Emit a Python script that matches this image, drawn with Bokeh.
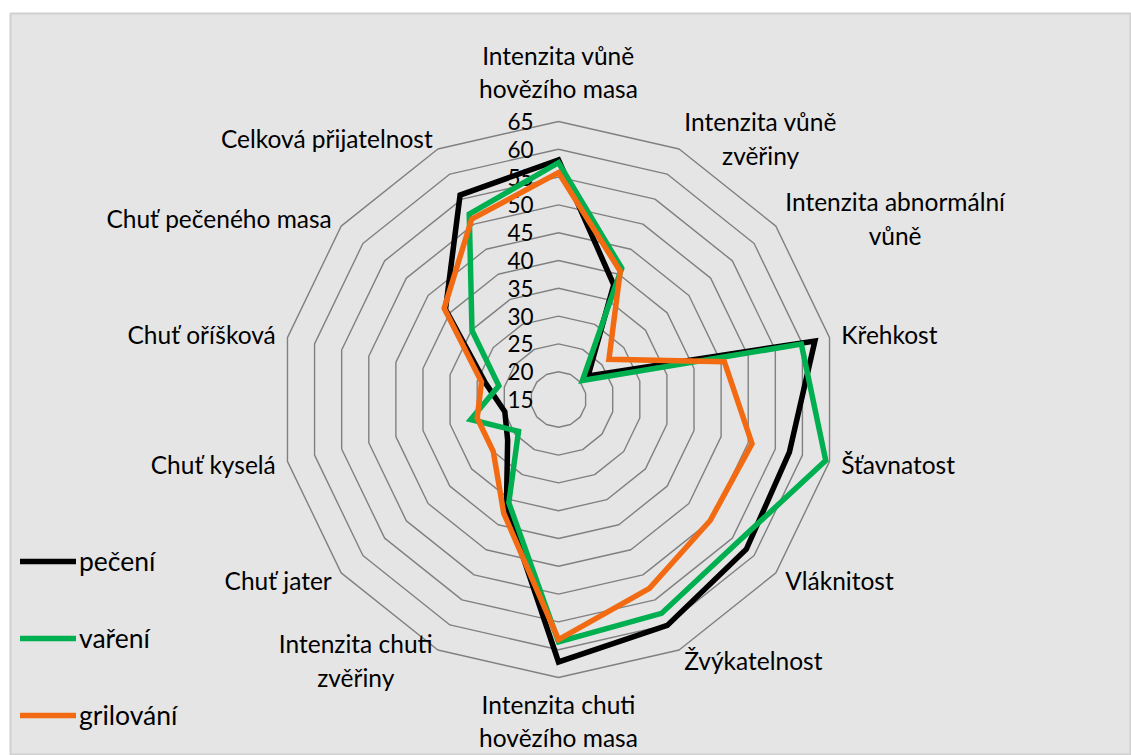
import numpy as np
from bokeh.plotting import figure
from bokeh.models import ColumnDataSource, Range1d, Legend, LegendItem
from bokeh.core.properties import value
from bokeh.embed import file_html
from bokeh.resources import INLINE

# ---------------- data ----------------
categories = [
    "Intenzita vůně\nhovězího masa",
    "Intenzita vůně\nzvěřiny",
    "Intenzita abnormální\nvůně",
    "Křehkost",
    "Šťavnatost",
    "Vláknitost",
    "Žvýkatelnost",
    "Intenzita chuti\nhovězího masa",
    "Intenzita chuti\nzvěřiny",
    "Chuť jater",
    "Chuť kyselá",
    "Chuť oříšková",
    "Chuť pečeného masa",
    "Celková přijatelnost",
]
series_names = ["pečení", "vaření", "grilování"]
peceni = [58.1, 37.9, 21.8, 62.3, 57.6, 58.2, 60.1, 62.2, 36.6, 26.7, 24.9, 28.5, 41.0, 55.8]
vareni = [57.6, 41.2, 20.5, 59.8, 64.3, 56.2, 57.7, 58.6, 35.6, 24.2, 31.2, 26.0, 34.9, 52.0]
grilovani = [55.8, 40.6, 26.6, 45.6, 50.7, 49.9, 52.7, 58.2, 37.7, 30.0, 30.0, 29.2, 41.3, 51.0]
tick_values = [15, 20, 25, 30, 35, 40, 45, 50, 55, 60, 65]

# ---------------- styling / geometry ----------------
R_MIN = tick_values[0]
R_MAX = tick_values[-1]
PX = 5.56          # pixels per value unit
FRAME_W, FRAME_H = 1121, 742
CX, CY = 548, 386  # radar centre inside frame (px from left / top)
FONT = "Lato"
colors = ["#000000", "#00B050", "#F26B13"]

N = len(categories)
theta = np.arange(N) * 2 * np.pi / N
sin_t, cos_t = np.sin(theta), np.cos(theta)

p = figure(width=1131, height=755, output_backend="svg", toolbar_location=None,
           x_range=Range1d(-CX / PX, (FRAME_W - CX) / PX),
           y_range=Range1d(-(FRAME_H - CY) / PX, CY / PX),
           x_axis_location=None, y_axis_location=None,
           min_border_left=10, min_border_top=13, min_border_right=0, min_border_bottom=0,
           background_fill_color="#e5e5e5", border_fill_color="white",
           outline_line_color="#d0d0d0", outline_line_width=2)
p.grid.visible = False

# rings
ring_xs, ring_ys = [], []
for t in tick_values[1:]:
    r = t - R_MIN
    ring_xs.append(list(np.append(r * sin_t, r * sin_t[0])))
    ring_ys.append(list(np.append(r * cos_t, r * cos_t[0])))
p.multi_line(ring_xs, ring_ys, line_color="#808080", line_width=1.4)

# tick labels
tick_src = ColumnDataSource(dict(x=[0] * len(tick_values),
                                 y=[t - R_MIN for t in tick_values],
                                 text=[str(t) for t in tick_values]))
p.text(x="x", y="y", text="text", source=tick_src, x_offset=-25,
       text_align="right", text_baseline="middle",
       text_font=value(FONT), text_font_size="22.5px", text_color="#000000")

# series
renderers = []
for name, vals, col in zip(series_names, [peceni, vareni, grilovani], colors):
    r = np.array(vals) - R_MIN
    xs = r * sin_t
    ys = r * cos_t
    xs = np.append(xs, xs[:2])
    ys = np.append(ys, ys[:2])
    rr = p.line(xs, ys, line_color=col, line_width=5.5, line_join="miter", line_cap="round")
    renderers.append((name, rr))

# category labels
anchors, pads = [], []
for s, c in zip(sin_t, cos_t):
    if abs(s) < 0.1:
        anchors.append("bottom_center" if c > 0 else "top_center")
        pads.append(18 if c > 0 else 12)
    elif s > 0:
        anchors.append("center_left")
        pads.append(12)
    else:
        anchors.append("center_right")
        pads.append(12)
r_lab = (R_MAX - R_MIN) + np.array(pads) / PX
lab_src = ColumnDataSource(dict(x=r_lab * sin_t, y=r_lab * cos_t, text=categories, anchor=anchors))
p.text(x="x", y="y", text="text", anchor="anchor", source=lab_src,
       text_align="center", text_font=value(FONT), text_font_size="24.5px",
       text_line_height=1.17, text_color="#000000")

legend = Legend(items=[LegendItem(label=n, renderers=[r]) for n, r in renderers],
                location=(10, 24), orientation="vertical",
                border_line_color=None, background_fill_alpha=0,
                padding=0, margin=0, glyph_width=56, glyph_height=32, label_height=32,
                spacing=45, label_standoff=3,
                label_text_font=FONT, label_text_font_size="26.5px", label_text_color="#000000")
p.add_layout(legend)

open("out.html", "w").write(file_html(p, INLINE))
